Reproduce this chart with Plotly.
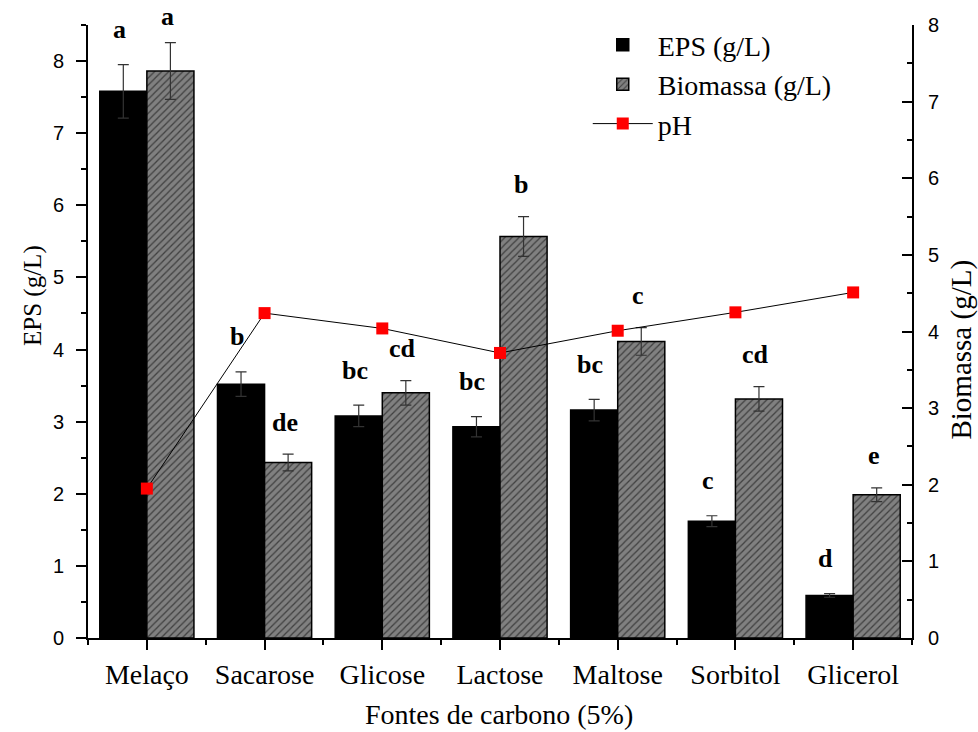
import plotly.graph_objects as go

categories = ["Melaço", "Sacarose", "Glicose", "Lactose", "Maltose", "Sorbitol", "Glicerol"]
eps = [7.58, 3.52, 3.08, 2.93, 3.16, 1.62, 0.59]
eps_err = [0.37, 0.17, 0.15, 0.14, 0.15, 0.075, 0.025]
biomassa = [7.40, 2.29, 3.20, 5.24, 3.87, 3.12, 1.87]
bio_err = [0.37, 0.11, 0.16, 0.26, 0.18, 0.16, 0.09]
ph = [1.95, 4.24, 4.04, 3.72, 4.01, 4.25, 4.51]
eps_letters = ["a", "b", "bc", "bc", "bc", "c", "d"]
bio_letters = ["a", "de", "cd", "b", "c", "cd", "e"]

idx = list(range(len(categories)))
SERIF = "Liberation Serif, Times New Roman, serif"
SANS = "Liberation Sans, Arial, sans-serif"
BW = 0.4

W, H = 978, 732
ML, MR, MT, MB = 88, 66, 25, 94
PLOT_H = H - MT - MB
Y1_MAX, Y2_MAX = 8.5, 8.0

fig = go.Figure()
fig.add_trace(go.Bar(
    x=idx, y=eps, name="EPS (g/L)", width=BW, offset=-BW,
    marker=dict(color="black", line=dict(color="black", width=1.5)),
    error_y=dict(type="data", array=eps_err, visible=True, color="#333333", thickness=1.2, width=5.5),
    yaxis="y",
))
fig.add_trace(go.Bar(
    x=idx, y=biomassa, name="Biomassa (g/L)", width=BW, offset=0,
    marker=dict(color="#808080", line=dict(color="black", width=1.5),
                pattern=dict(shape="/", fgcolor="black", bgcolor="#808080", size=5, solidity=0.25)),
    error_y=dict(type="data", array=bio_err, visible=True, color="#333333", thickness=1.2, width=5.5),
    yaxis="y2",
))
fig.add_trace(go.Scatter(
    x=idx, y=ph, name="pH", mode="lines+markers",
    line=dict(color="black", width=1),
    marker=dict(symbol="square", color="red", size=12),
    yaxis="y2",
))


def letter_shift(top_value, axis_max, wanted):
    # keep the letter inside the picture: distance in px from figure top
    px_from_top = MT + (axis_max - top_value) * PLOT_H / axis_max
    return min(wanted, px_from_top - 17)


annotations = []
letter_font = dict(family=SERIF, size=26, color="black", weight="bold")
for i in idx:
    t1 = eps[i] + eps_err[i]
    annotations.append(dict(x=i - BW / 2, y=t1, xref="x", yref="y",
                            text=eps_letters[i], showarrow=False, yanchor="middle",
                            yshift=letter_shift(t1, Y1_MAX, 35), xshift=-4, font=letter_font))
    t2 = biomassa[i] + bio_err[i]
    annotations.append(dict(x=i + BW / 2, y=t2, xref="x", yref="y2",
                            text=bio_letters[i], showarrow=False, yanchor="middle",
                            yshift=letter_shift(t2, Y2_MAX, 32), xshift=-3, font=letter_font))

annotations.append(dict(x=-0.0667, y=0.558, xref="paper", yref="paper", text="EPS (g/L)",
                        textangle=-90, showarrow=False, xanchor="center", yanchor="middle",
                        font=dict(family=SERIF, size=25, color="black")))
annotations.append(dict(x=1.0607, y=0.4706, xref="paper", yref="paper", text="Biomassa (g/L)",
                        textangle=-90, showarrow=False, xanchor="center", yanchor="middle",
                        font=dict(family=SERIF, size=29, color="black")))
annotations.append(dict(x=0.4984, y=-0.124, xref="paper", yref="paper", text="Fontes de carbono (5%)",
                        showarrow=False, xanchor="center", yanchor="middle",
                        font=dict(family=SERIF, size=28, color="black")))

fig.update_layout(
    width=W, height=H,
    margin=dict(l=ML, r=MR, t=MT, b=MB),
    paper_bgcolor="white", plot_bgcolor="white",
    barmode="overlay",
    showlegend=True,
    legend=dict(x=0.6065, y=1.008, xanchor="left", yanchor="top",
                font=dict(family=SERIF, size=28, color="black"),
                bgcolor="rgba(0,0,0,0)", itemwidth=60, tracegroupgap=0),
    xaxis=dict(
        range=[-0.5, 6.5], tickmode="array", tickvals=idx, ticktext=categories,
        showline=True, linecolor="black", linewidth=2, showgrid=False, zeroline=False,
        ticks="outside", ticklen=10, tickwidth=2, tickcolor="black",
        tickfont=dict(family=SERIF, size=28, color="black"),
        minor=dict(tickmode="linear", tick0=0.5, dtick=1, ticks="outside", ticklen=5, tickwidth=2, tickcolor="black"),
    ),
    yaxis=dict(
        range=[0, Y1_MAX], dtick=1, tick0=0,
        showline=True, linecolor="black", linewidth=2, showgrid=False, zeroline=False,
        ticks="outside", ticklen=10, tickwidth=2, tickcolor="black",
        tickfont=dict(family=SANS, size=20, color="black"), ticklabelstandoff=8,
        minor=dict(dtick=0.5, ticks="outside", ticklen=5, tickwidth=2, tickcolor="black"),
    ),
    yaxis2=dict(
        range=[0, Y2_MAX], dtick=1, tick0=0, overlaying="y", side="right",
        showline=True, linecolor="black", linewidth=2, showgrid=False, zeroline=False,
        ticks="inside", ticklen=10, tickwidth=2, tickcolor="black",
        tickfont=dict(family=SANS, size=20, color="black"), ticklabelstandoff=10,
        minor=dict(dtick=0.5, ticks="inside", ticklen=5, tickwidth=2, tickcolor="black"),
    ),
    annotations=annotations,
)

fig.write_html("out.html")
